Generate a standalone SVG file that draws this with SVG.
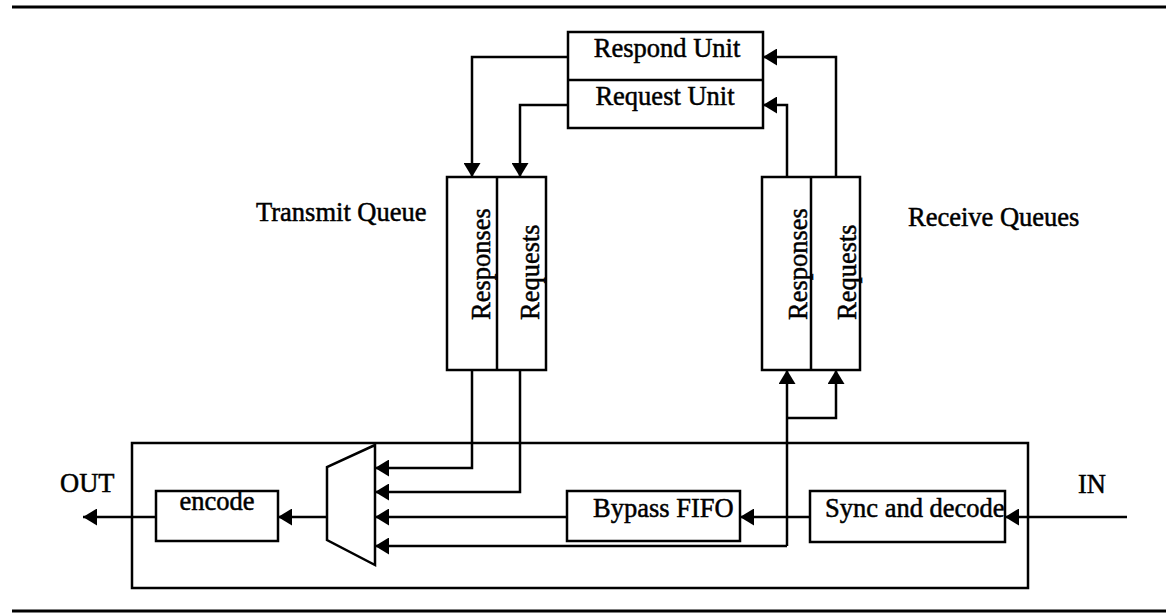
<svg xmlns="http://www.w3.org/2000/svg" width="1166" height="613" viewBox="0 0 1166 613">
<style>
.box{fill:none;stroke:#000;stroke-width:2.5}
.wire{fill:none;stroke:#000;stroke-width:2.5}
.rule{stroke:#000;stroke-width:3}
text{font-family:"Liberation Serif","Times New Roman",serif;font-size:26.5px;fill:#000;stroke:#000;stroke-width:0.5}
.c{text-anchor:middle}
</style>
<defs>
<marker id="ah" markerWidth="15" markerHeight="17" refX="14" refY="8.5" orient="auto" markerUnits="userSpaceOnUse">
<path d="M0,0 L14,8.5 L0,17 z" fill="#000"/>
</marker>
</defs>
<rect width="1166" height="613" fill="#fff"/>
<line class="rule" x1="12" y1="7" x2="1166" y2="7"/>
<line class="rule" x1="12" y1="611" x2="1166" y2="611"/>

<g id="units">
<rect class="box" x="568" y="32" width="195" height="96"/>
<line class="box" x1="568" y1="80" x2="763" y2="80"/>
<text class="c" x="667" y="57">Respond Unit</text>
<text class="c" x="665" y="105">Request Unit</text>
</g>

<g id="transmit-queue">
<text x="256" y="221">Transmit Queue</text>
<rect class="box" x="447" y="177" width="99" height="193"/>
<line class="box" x1="497" y1="177" x2="497" y2="370"/>
<text transform="translate(490,320) rotate(-90)">Responses</text>
<text transform="translate(539,320) rotate(-90)">Requests</text>
</g>

<g id="receive-queues">
<text x="908" y="226">Receive Queues</text>
<rect class="box" x="762" y="177" width="98" height="193"/>
<line class="box" x1="811" y1="177" x2="811" y2="370"/>
<text transform="translate(807,320) rotate(-90)">Responses</text>
<text transform="translate(856,320) rotate(-90)">Requests</text>
</g>

<g id="link-box">
<rect class="box" x="132" y="443" width="896" height="145"/>
</g>

<g id="mux">
<polygon class="box" points="375,445 327,467 327,540 375,565"/>
</g>

<g id="encode">
<rect class="box" x="156" y="491" width="122" height="50"/>
<text class="c" x="217" y="510">encode</text>
</g>

<g id="bypass">
<rect class="box" x="567" y="491" width="173" height="50"/>
<text x="593" y="517">Bypass FIFO</text>
</g>

<g id="sync">
<rect class="box" x="810" y="491" width="195" height="51"/>
<text x="825" y="517">Sync and decode</text>
</g>

<g id="labels">
<text x="60" y="492">OUT</text>
<text x="1078" y="493">IN</text>
</g>

<g id="connectors">
<path class="wire" d="M568,57 H472 V177" marker-end="url(#ah)"/>
<path class="wire" d="M568,105 H520 V177" marker-end="url(#ah)"/>
<path class="wire" d="M836,177 V57 H763" marker-end="url(#ah)"/>
<path class="wire" d="M787,177 V105 H763" marker-end="url(#ah)"/>
<path class="wire" d="M472,370 V468 H375" marker-end="url(#ah)"/>
<path class="wire" d="M520,370 V492 H375" marker-end="url(#ah)"/>
<path class="wire" d="M787,418 H836 V370" marker-end="url(#ah)"/>
<path class="wire" d="M787,546 V370" marker-end="url(#ah)"/>
<path class="wire" d="M787,546 H375" marker-end="url(#ah)"/>
<path class="wire" d="M567,517 H375" marker-end="url(#ah)"/>
<path class="wire" d="M327,517 H278" marker-end="url(#ah)"/>
<path class="wire" d="M156,517 H83" marker-end="url(#ah)"/>
<path class="wire" d="M810,517 H740" marker-end="url(#ah)"/>
<path class="wire" d="M1127,517 H1005" marker-end="url(#ah)"/>
</g>
</svg>
